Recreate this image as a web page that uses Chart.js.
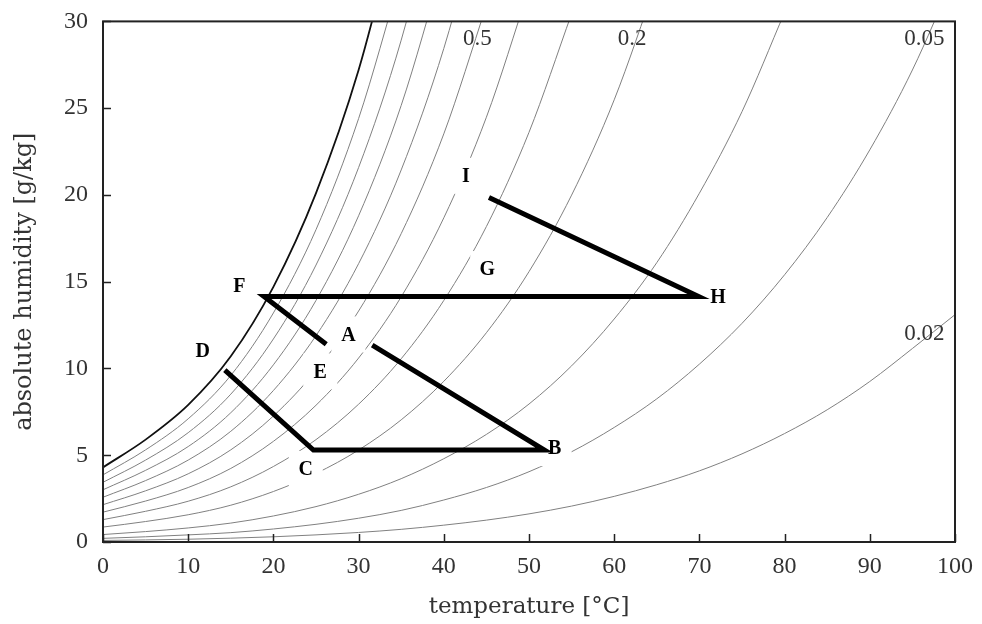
<!DOCTYPE html>
<html>
<head>
<meta charset="utf-8">
<script src="https://cdn.jsdelivr.net/npm/chart.js@4"></script>
<style>
  html, body { margin: 0; padding: 0; background: #fff; }
</style>
</head>
<body>
<canvas id="chart" width="982" height="624"></canvas>
<script>
// temperature grid for the relative humidity curves
const temps = [0, 5, 10, 15, 20, 25, 30, 35, 40, 45, 50, 55, 60, 65, 70, 75, 80, 85, 90, 95, 100];

// absolute humidity [g/kg] along each relative humidity curve
const rh100 = [4.3, 5.9, 7.9, 10.7, 14.7, 20.1, 27.2, 36.6];
const rh90 = [3.87, 5.31, 7.1, 9.6, 13.2, 18.0, 24.4, 32.7];
const rh80 = [3.44, 4.72, 6.3, 8.52, 11.7, 15.96, 21.58, 28.92, 38.5];
const rh70 = [3.01, 4.13, 5.5, 7.45, 10.21, 13.92, 18.8, 25.16, 33.4];
const rh60 = [2.58, 3.54, 4.72, 6.38, 8.73, 11.89, 16.04, 21.44, 28.44, 37.46];
const rh50 = [2.15, 2.95, 3.93, 5.31, 7.26, 9.88, 13.31, 17.77, 23.52, 30.91];
const rh40 = [1.72, 2.36, 3.14, 4.24, 5.8, 7.88, 10.6, 14.13, 18.68, 24.48, 31.88];
const rh30 = [1.29, 1.77, 2.35, 3.18, 4.35, 5.9, 7.94, 10.56, 13.92, 18.18, 23.61, 30.44];
const rh20 = [0.86, 1.18, 1.57, 2.12, 2.91, 3.95, 5.3, 7.04, 9.26, 12.06, 15.58, 19.99, 25.48, 32.33];
const rh10 = [0.43, 0.6, 0.81, 1.09, 1.5, 2.04, 2.75, 3.65, 4.8, 6.2, 7.95, 10.15, 12.85, 16.1, 20.1, 24.8, 30.52];
const rh5 = [0.21, 0.3, 0.41, 0.54, 0.75, 1.02, 1.37, 1.82, 2.42, 3.14, 4.05, 5.2, 6.6, 8.25, 10.25, 12.6, 15.4, 18.7, 22.6, 27.2, 32.74];
const rh2 = [0.09, 0.12, 0.16, 0.22, 0.3, 0.41, 0.55, 0.73, 0.97, 1.26, 1.62, 2.07, 2.63, 3.3, 4.1, 5.08, 6.25, 7.62, 9.25, 11.15, 13.1];

// process path D-C-B-A and E-F-H-I
const pathOneT = [14.3, 24.7, 51.8, 31.6];
const pathOneH = [9.9, 5.3, 5.3, 11.35];
const pathTwoT = [26.2, 18.9, 69.9, 45.3];
const pathTwoH = [11.4, 14.15, 14.15, 19.85];

// state point letters
const pointNames = ["A", "B", "C", "D", "E", "F", "G", "H", "I"];
const pointLabelT = [28.8, 53.0, 23.8, 11.7, 25.5, 16.0, 45.1, 72.2, 42.6];
const pointLabelH = [11.96, 5.41, 4.21, 11.01, 9.83, 14.74, 15.73, 14.11, 21.1];

// relative humidity curve labels
const rhNames = ["0.5", "0.2", "0.05", "0.02"];
const rhLabelT = [43.95, 62.1, 96.4, 96.4];
const rhLabelH = [29.0, 28.97, 28.97, 11.97];

const xTicks = [0, 10, 20, 30, 40, 50, 60, 70, 80, 90, 100];
const yTicks = [0, 5, 10, 15, 20, 25, 30];

function toPoints(xs, ys) {
  return ys.map((v, i) => ({ x: xs[i], y: v }));
}

const curveSets = [rh100, rh90, rh80, rh70, rh60, rh50, rh40, rh30, rh20, rh10, rh5, rh2];

const datasets = [];
datasets.push({
  data: toPoints(pathOneT, pathOneH),
  borderColor: "#000", borderWidth: 5, order: 0, clip: 0
});
datasets.push({
  data: toPoints(pathTwoT, pathTwoH),
  borderColor: "#000", borderWidth: 5, order: 0, clip: 0
});
curveSets.forEach((vals, i) => {
  datasets.push({
    data: toPoints(temps, vals),
    borderColor: i === 0 ? "#111" : "#808080",
    borderWidth: i === 0 ? 1.8 : 1,
    cubicInterpolationMode: "monotone",
    order: 1,
    clip: 0
  });
});

let boxesDone = false;
const labelPlugin = {
  id: "labels",
  beforeDatasetsDraw() { boxesDone = false; },
  beforeDatasetDraw(chart, args) {
    if (boxesDone || args.meta.order !== 0) return;
    boxesDone = true;
    const { ctx, scales: { x, y } } = chart;
    ctx.save();
    // white boxes behind the letters hide the thin curves
    ctx.fillStyle = "#fff";
    pointNames.forEach((n, i) => {
      const px = x.getPixelForValue(pointLabelT[i]);
      const py = y.getPixelForValue(pointLabelH[i]);
      ctx.fillRect(px - 17, py - 18, 34, 36);
    });
    ctx.fillStyle = "#000";
    ctx.font = "bold 20px 'Liberation Serif'";
    ctx.textAlign = "center";
    ctx.textBaseline = "middle";
    pointNames.forEach((n, i) => {
      ctx.fillText(n, x.getPixelForValue(pointLabelT[i]), y.getPixelForValue(pointLabelH[i]) + 1);
    });
    ctx.restore();
  },
  afterDraw(chart) {
    const { ctx, chartArea: a, scales: { x, y } } = chart;
    ctx.save();
    ctx.fillStyle = "#333";
    ctx.font = "23px 'Liberation Serif'";
    ctx.textAlign = "center";
    ctx.textBaseline = "middle";
    rhNames.forEach((n, i) => {
      ctx.fillText(n, x.getPixelForValue(rhLabelT[i]), y.getPixelForValue(rhLabelH[i]));
    });
    // frame and inward ticks
    ctx.strokeStyle = "#222";
    ctx.lineWidth = 2;
    ctx.strokeRect(a.left, a.top, a.right - a.left, a.bottom - a.top);
    ctx.lineWidth = 1.5;
    ctx.beginPath();
    xTicks.forEach(t => {
      const px = Math.round(x.getPixelForValue(t)) + 0.5;
      ctx.moveTo(px, a.bottom);
      ctx.lineTo(px, a.bottom - 8);
    });
    yTicks.forEach(t => {
      const py = Math.round(y.getPixelForValue(t)) + 0.5;
      ctx.moveTo(a.left, py);
      ctx.lineTo(a.left + 8, py);
    });
    ctx.stroke();
    ctx.restore();
  }
};

new Chart(document.getElementById("chart"), {
  type: "line",
  data: { datasets: datasets },
  options: {
    responsive: false,
    animation: false,
    layout: { padding: { top: 17, right: 27, left: 0, bottom: 0 } },
    elements: { point: { radius: 0 } },
    plugins: { legend: { display: false }, tooltip: { enabled: false } },
    scales: {
      x: {
        type: "linear",
        min: 0, max: 100,
        grid: { display: false },
        border: { display: false },
        afterBuildTicks: s => { s.ticks = xTicks.map(v => ({ value: v })); },
        afterFit: s => { s.height = 82; },
        ticks: {
          color: "#333", padding: 2,
          font: { family: "'Liberation Serif'", size: 24 }
        },
        title: {
          display: true, text: "temperature [°C]", color: "#333",
          font: { family: "'DejaVu Serif'", size: 23 },
          padding: { top: 0, bottom: 3 }
        }
      },
      y: {
        type: "linear",
        min: 0, max: 30,
        grid: { display: false },
        border: { display: false },
        afterBuildTicks: s => { s.ticks = yTicks.map(v => ({ value: v })); },
        afterFit: s => { s.width = 103; },
        ticks: {
          color: "#333", padding: 7,
          font: { family: "'Liberation Serif'", size: 24 }
        },
        title: {
          display: true, text: "absolute humidity [g/kg]", color: "#333",
          font: { family: "'DejaVu Serif'", size: 24 },
          padding: { top: 10, bottom: 0 }
        }
      }
    }
  },
  plugins: [labelPlugin]
});
</script>
</body>
</html>
